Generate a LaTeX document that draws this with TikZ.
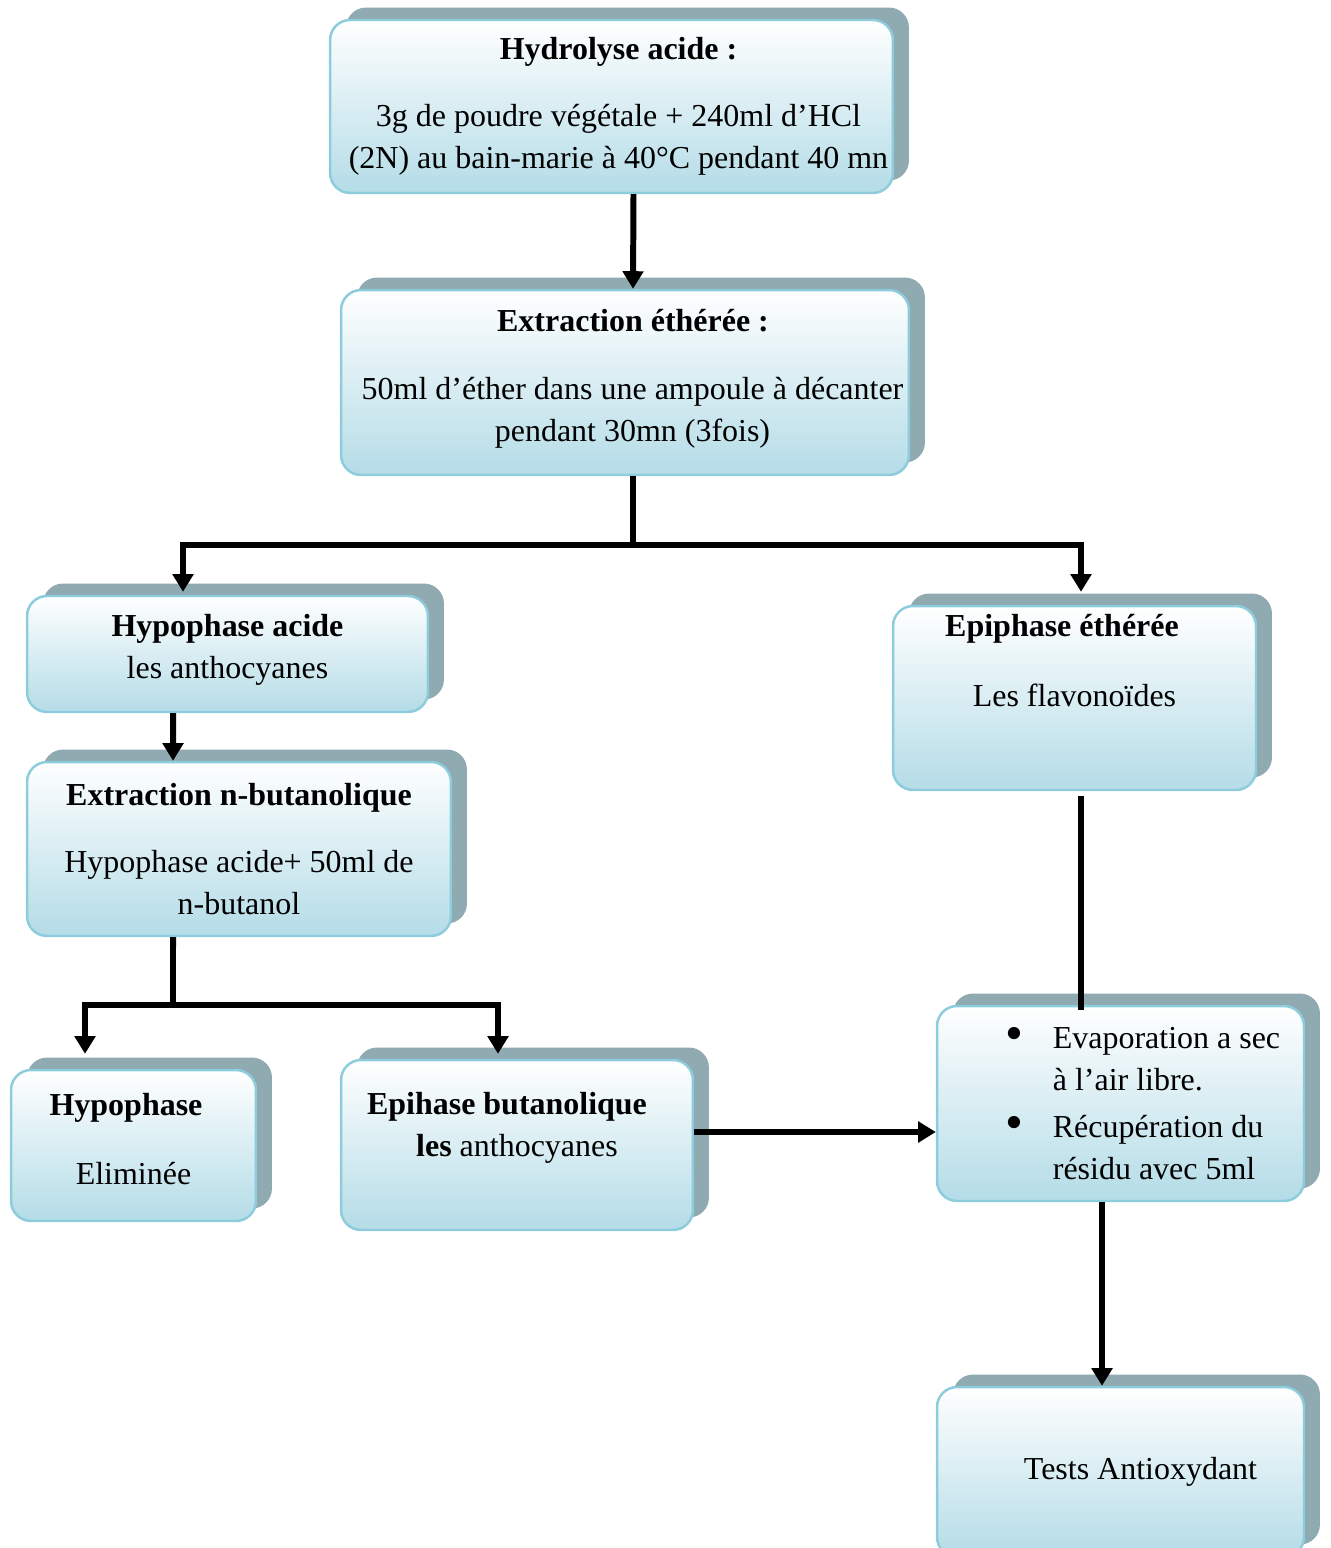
\documentclass[tikz,border=0pt]{standalone}
\usepackage{fontspec}
\setmainfont{Liberation Serif}
\usepackage{tikz}
\usetikzlibrary{positioning, calc, arrows.meta, shadows}
\definecolor{boxblue}{RGB}{180,220,231}
\definecolor{boxrim}{RGB}{140,204,220}
\definecolor{shadowgrey}{RGB}{143,170,176}
\newcommand{\evapdot}{\makebox[0.94cm][l]{\raisebox{-0.05em}{\scalebox{1.6}{\textbullet}}}}

\begin{document}
\begin{tikzpicture}[
  x=0.02cm, y=-0.02cm,
  phasebox/.style={draw=boxrim, line width=1.4pt, rounded corners=0.4cm, top color=white, bottom color=boxblue,
    drop shadow={shadow xshift=0.32cm, shadow yshift=0.25cm, fill=shadowgrey, opacity=1},
    align=center, inner sep=0pt, font=\fontsize{18.2}{23.8}\selectfont},
  arrow/.style={-{Triangle[width=11.5pt,length=10pt]}, line width=3.4pt},
  line/.style={line width=3.4pt},
]
  \useasboundingbox (0,0) rectangle (1330,1548);

  % Top of the chain
  \node (hydro) [phasebox, minimum width=11.26cm, minimum height=3.46cm] at (611.5,106.5)
    {\hspace*{0.28cm}\textbf{Hydrolyse acide :}\\[0.5cm]\hspace*{0.28cm}3g de poudre végétale + 240ml d’HCl\\\hspace*{0.28cm}(2N) au bain-marie à 40°C pendant 40 mn};
  \node (ether) [phasebox, minimum width=11.36cm, minimum height=3.70cm] at (625,382.5)
    {\hspace*{0.32cm}\textbf{Extraction éthérée :}\\[0.52cm]\hspace*{0.3cm}50ml d’éther dans une ampoule à décanter\\\hspace*{0.3cm}pendant 30mn (3fois)\\[-0.54cm]\mbox{}};

  % Left branch
  \node (hypoacid) [phasebox, minimum width=8.02cm, minimum height=2.32cm] at (227.5,654)
    {\textbf{Hypophase acide}\\les anthocyanes\\[-0.52cm]\mbox{}};
  \node (butanol) [phasebox, minimum width=8.48cm, minimum height=3.48cm] at (239,849)
    {\textbf{Extraction n-butanolique}\\[0.52cm]Hypophase acide+ 50ml de\\n-butanol};
  \node (hypo) [phasebox, minimum width=4.9cm, minimum height=3.02cm] at (133.5,1145.5)
    {\textbf{Hypophase}\hspace*{0.3cm}\\[0.54cm]Eliminée\hspace*{0.2cm}\\[-0.56cm]\mbox{}};
  \node (epibut) [phasebox, minimum width=7.04cm, minimum height=3.40cm] at (517,1145)
    {\textbf{Epihase butanolique}\hspace*{0.4cm}\\\textbf{les} anthocyanes\hspace*{0.6cm}\\\mbox{}};

  % Right branch
  \node (epiether) [phasebox, minimum width=7.26cm, minimum height=3.68cm] at (1074.5,698)
    {\textbf{Epiphase éthérée}\hspace*{0.5cm}\\[0.56cm]Les flavonoïdes\\[0.68cm]\mbox{}};
  \node (evap) [phasebox, minimum width=7.34cm, minimum height=3.90cm, align=left] at (1120.5,1103.5)
    {\hspace*{0.9cm}\evapdot Evaporation a sec\\
     \hspace*{1.84cm}à l’air libre.\\[3pt]
     \hspace*{0.9cm}\evapdot Récupération du\\
     \hspace*{1.84cm}résidu avec 5ml};
  \node (tests) [phasebox, minimum width=7.34cm, minimum height=3.40cm] at (1120.5,1472)
    {\hspace*{0.8cm}Tests Antioxydant};

  % Forks
  \coordinate (etherfork) at (633,545);
  \coordinate (butanolfork) at (173,1005);

  % Connectors
  \draw [arrow] ([xshift=0.44cm]hydro.south) -- ([xshift=0.16cm]ether.north);
  \draw [line] ([xshift=0.16cm]ether.south) -- (etherfork);
  \draw [arrow] (etherfork) -| ([xshift=-0.89cm,yshift=0.06cm]hypoacid.north);
  \draw [arrow] (etherfork) -| ([xshift=0.13cm,yshift=0.26cm]epiether.north);
  \draw [arrow] ([xshift=-1.09cm]hypoacid.south) -- ([xshift=-1.32cm]butanol.north);
  \draw [line] ([xshift=-1.32cm]butanol.south) -- (butanolfork);
  \draw [arrow] (butanolfork) -| ([xshift=-0.97cm,yshift=0.3cm]hypo.north);
  \draw [arrow] (butanolfork) -| ([xshift=-0.38cm,yshift=0.1cm]epibut.north);
  \draw [arrow] ([yshift=0.26cm]epibut.east) -- ([yshift=0.26cm]epibut.east -| evap.west);
  \draw [line] ([xshift=0.13cm,yshift=-0.1cm]epiether.south) -- ([xshift=0.13cm,yshift=-0.1cm]epiether.south |- evap.north);
  \draw [arrow] ([xshift=-0.37cm]evap.south) -- ([xshift=-0.37cm]tests.north);

\end{tikzpicture}
\end{document}
